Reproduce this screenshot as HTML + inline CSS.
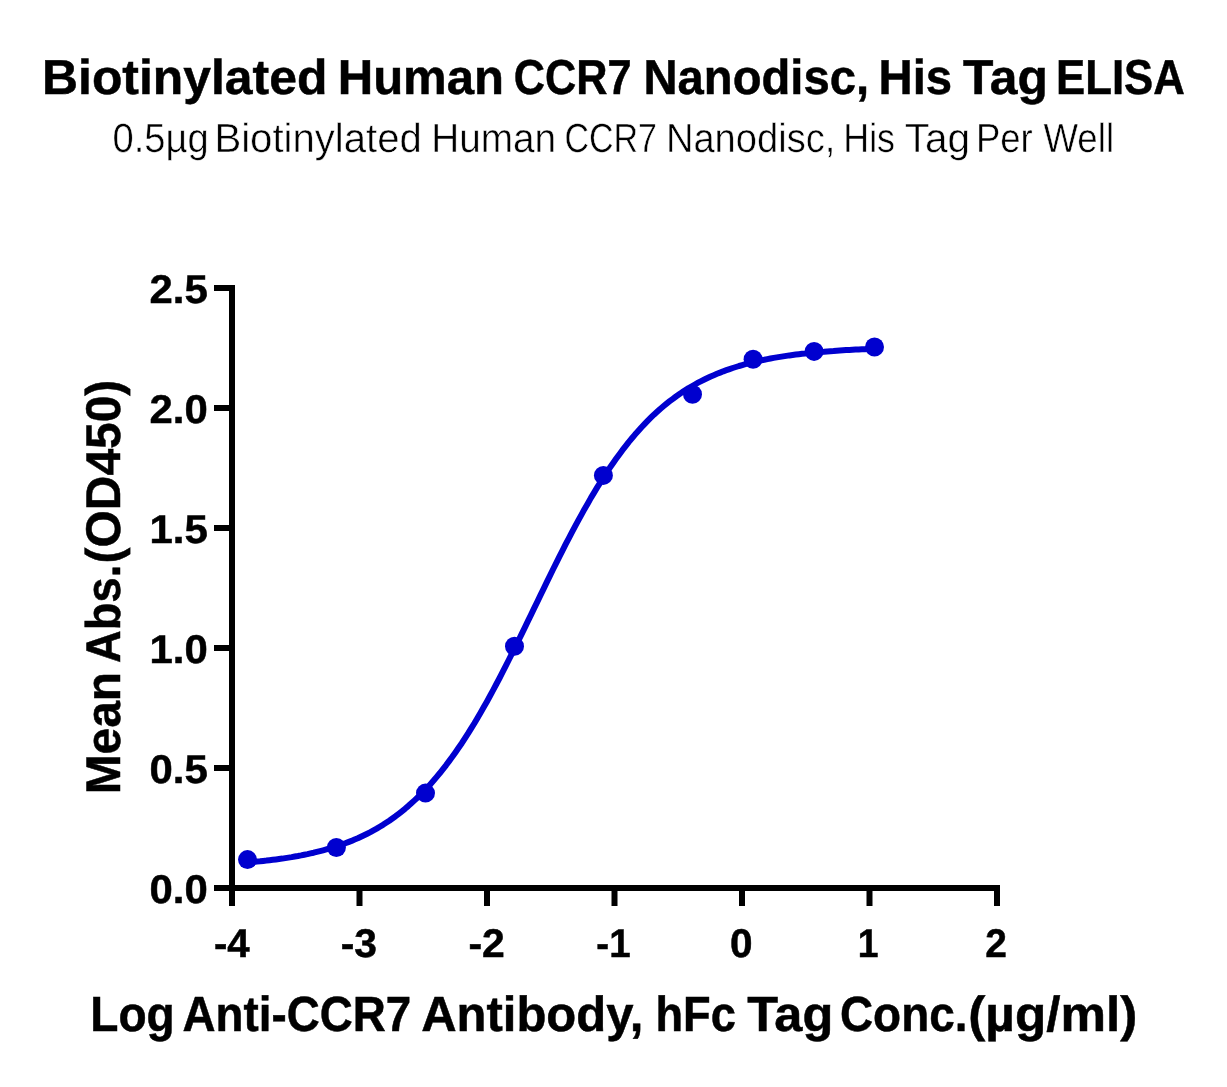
<!DOCTYPE html>
<html><head><meta charset="utf-8"><style>
html,body{margin:0;padding:0;background:#fff;}
svg{display:block;will-change:transform;}
text{font-family:"Liberation Sans",sans-serif;fill:#000;text-rendering:geometricPrecision;}
</style></head><body>
<svg width="1227" height="1087" viewBox="0 0 1227 1087">
<rect width="1227" height="1087" fill="#fff"/>
<text x="42.04" y="94.20" font-size="49" font-weight="bold" textLength="285.37" lengthAdjust="spacingAndGlyphs" stroke="#000" stroke-width="0.5">Biotinylated</text>
<text x="337.70" y="94.20" font-size="49" font-weight="bold" textLength="166.35" lengthAdjust="spacingAndGlyphs" stroke="#000" stroke-width="0.5">Human</text>
<text x="513.69" y="94.20" font-size="49" font-weight="bold" textLength="117.75" lengthAdjust="spacingAndGlyphs" stroke="#000" stroke-width="0.5">CCR7</text>
<text x="643.52" y="94.20" font-size="49" font-weight="bold" textLength="225.50" lengthAdjust="spacingAndGlyphs" stroke="#000" stroke-width="0.5">Nanodisc,</text>
<text x="878.52" y="94.20" font-size="49" font-weight="bold" textLength="73.57" lengthAdjust="spacingAndGlyphs" stroke="#000" stroke-width="0.5">His</text>
<text x="963.04" y="94.20" font-size="49" font-weight="bold" textLength="84.77" lengthAdjust="spacingAndGlyphs" stroke="#000" stroke-width="0.5">Tag</text>
<text x="1056.06" y="94.20" font-size="49" font-weight="bold" textLength="128.80" lengthAdjust="spacingAndGlyphs" stroke="#000" stroke-width="0.5">ELISA</text>
<text x="112.47" y="152.10" font-size="40.8" font-weight="normal" textLength="96.33" lengthAdjust="spacingAndGlyphs" stroke="#fff" stroke-width="0.5">0.5µg</text>
<text x="214.46" y="152.10" font-size="40.8" font-weight="normal" textLength="207.32" lengthAdjust="spacingAndGlyphs" stroke="#fff" stroke-width="0.5">Biotinylated</text>
<text x="431.16" y="152.10" font-size="40.8" font-weight="normal" textLength="124.96" lengthAdjust="spacingAndGlyphs" stroke="#fff" stroke-width="0.5">Human</text>
<text x="564.39" y="152.10" font-size="40.8" font-weight="normal" textLength="92.41" lengthAdjust="spacingAndGlyphs" stroke="#fff" stroke-width="0.5">CCR7</text>
<text x="665.91" y="152.10" font-size="40.8" font-weight="normal" textLength="169.45" lengthAdjust="spacingAndGlyphs" stroke="#fff" stroke-width="0.5">Nanodisc,</text>
<text x="843.28" y="152.10" font-size="40.8" font-weight="normal" textLength="51.74" lengthAdjust="spacingAndGlyphs" stroke="#fff" stroke-width="0.5">His</text>
<text x="904.75" y="152.10" font-size="40.8" font-weight="normal" textLength="65.33" lengthAdjust="spacingAndGlyphs" stroke="#fff" stroke-width="0.5">Tag</text>
<text x="975.93" y="152.10" font-size="40.8" font-weight="normal" textLength="56.81" lengthAdjust="spacingAndGlyphs" stroke="#fff" stroke-width="0.5">Per</text>
<text x="1043.43" y="152.10" font-size="40.8" font-weight="normal" textLength="70.61" lengthAdjust="spacingAndGlyphs" stroke="#fff" stroke-width="0.5">Well</text>
<text x="90.30" y="1031.30" font-size="49.3" font-weight="bold" textLength="84.49" lengthAdjust="spacingAndGlyphs" stroke="#000" stroke-width="0.5">Log</text>
<text x="182.57" y="1031.30" font-size="49.3" font-weight="bold" textLength="228.58" lengthAdjust="spacingAndGlyphs" stroke="#000" stroke-width="0.5">Anti-CCR7</text>
<text x="421.18" y="1031.30" font-size="49.3" font-weight="bold" textLength="222.23" lengthAdjust="spacingAndGlyphs" stroke="#000" stroke-width="0.5">Antibody,</text>
<text x="655.44" y="1031.30" font-size="49.3" font-weight="bold" textLength="80.41" lengthAdjust="spacingAndGlyphs" stroke="#000" stroke-width="0.5">hFc</text>
<text x="747.23" y="1031.30" font-size="49.3" font-weight="bold" textLength="86.01" lengthAdjust="spacingAndGlyphs" stroke="#000" stroke-width="0.5">Tag</text>
<text x="839.98" y="1031.30" font-size="49.3" font-weight="bold" textLength="127.50" lengthAdjust="spacingAndGlyphs" stroke="#000" stroke-width="0.5">Conc.</text>
<text x="968.32" y="1031.30" font-size="49.3" font-weight="bold" textLength="168.96" lengthAdjust="spacingAndGlyphs" stroke="#000" stroke-width="0.5">(µg/ml)</text>
<g transform="translate(120.4,0) rotate(-90)"><text x="-794.31" y="0.00" font-size="48.7" font-weight="bold" textLength="122.25" lengthAdjust="spacingAndGlyphs" stroke="#000" stroke-width="0.5">Mean</text><text x="-662.92" y="0.00" font-size="48.7" font-weight="bold" textLength="98.13" lengthAdjust="spacingAndGlyphs" stroke="#000" stroke-width="0.5">Abs.</text><text x="-563.41" y="0.00" font-size="48.7" font-weight="bold" textLength="183.72" lengthAdjust="spacingAndGlyphs" stroke="#000" stroke-width="0.5">(OD450)</text></g>
<text x="149.46" y="903.20" font-size="40" font-weight="bold" textLength="58.22" lengthAdjust="spacingAndGlyphs" stroke="#000" stroke-width="0.5">0.0</text>
<text x="149.46" y="783.20" font-size="40" font-weight="bold" textLength="58.22" lengthAdjust="spacingAndGlyphs" stroke="#000" stroke-width="0.5">0.5</text>
<text x="149.46" y="663.20" font-size="40" font-weight="bold" textLength="58.22" lengthAdjust="spacingAndGlyphs" stroke="#000" stroke-width="0.5">1.0</text>
<text x="149.46" y="543.20" font-size="40" font-weight="bold" textLength="58.22" lengthAdjust="spacingAndGlyphs" stroke="#000" stroke-width="0.5">1.5</text>
<text x="149.46" y="423.20" font-size="40" font-weight="bold" textLength="58.22" lengthAdjust="spacingAndGlyphs" stroke="#000" stroke-width="0.5">2.0</text>
<text x="149.46" y="303.20" font-size="40" font-weight="bold" textLength="58.22" lengthAdjust="spacingAndGlyphs" stroke="#000" stroke-width="0.5">2.5</text>
<text x="214.00" y="956.80" font-size="40" font-weight="bold" textLength="35.69" lengthAdjust="spacingAndGlyphs" stroke="#000" stroke-width="0.5">-4</text>
<text x="340.68" y="956.80" font-size="40" font-weight="bold" textLength="36.34" lengthAdjust="spacingAndGlyphs" stroke="#000" stroke-width="0.5">-3</text>
<text x="468.48" y="956.80" font-size="40" font-weight="bold" textLength="36.42" lengthAdjust="spacingAndGlyphs" stroke="#000" stroke-width="0.5">-2</text>
<text x="596.34" y="956.80" font-size="40" font-weight="bold" textLength="34.21" lengthAdjust="spacingAndGlyphs" stroke="#000" stroke-width="0.5">-1</text>
<text x="729.99" y="956.80" font-size="40" font-weight="bold" textLength="22.55" lengthAdjust="spacingAndGlyphs" stroke="#000" stroke-width="0.5">0</text>
<text x="857.84" y="956.80" font-size="40" font-weight="bold" textLength="20.77" lengthAdjust="spacingAndGlyphs" stroke="#000" stroke-width="0.5">1</text>
<text x="985.34" y="956.80" font-size="40" font-weight="bold" textLength="21.65" lengthAdjust="spacingAndGlyphs" stroke="#000" stroke-width="0.5">2</text>
<g fill="#000">
<rect x="229" y="285" width="6" height="606"/>
<rect x="229" y="885" width="771" height="6"/>
<rect x="214" y="885" width="21" height="6"/><rect x="214" y="765" width="21" height="6"/><rect x="214" y="645" width="21" height="6"/><rect x="214" y="525" width="21" height="6"/><rect x="214" y="405" width="21" height="6"/><rect x="214" y="285" width="21" height="6"/><rect x="229.0" y="885" width="6" height="21"/><rect x="356.5" y="885" width="6" height="21"/><rect x="484.0" y="885" width="6" height="21"/><rect x="611.5" y="885" width="6" height="21"/><rect x="739.0" y="885" width="6" height="21"/><rect x="866.5" y="885" width="6" height="21"/><rect x="994.0" y="885" width="6" height="21"/>
</g>
<path d="M247.5,862.5 L250.7,862.2 L253.8,861.9 L257.0,861.6 L260.1,861.3 L263.3,860.9 L266.4,860.6 L269.6,860.2 L272.7,859.8 L275.9,859.4 L279.0,859.0 L282.2,858.6 L285.3,858.1 L288.5,857.6 L291.6,857.1 L294.8,856.5 L297.9,856.0 L301.1,855.4 L304.2,854.7 L307.4,854.1 L310.5,853.4 L313.7,852.7 L316.8,851.9 L320.0,851.1 L323.1,850.3 L326.3,849.4 L329.4,848.5 L332.6,847.6 L335.7,846.6 L338.9,845.5 L342.0,844.4 L345.2,843.3 L348.3,842.1 L351.5,840.9 L354.6,839.5 L357.8,838.2 L360.9,836.7 L364.1,835.2 L367.2,833.7 L370.4,832.1 L373.5,830.4 L376.7,828.6 L379.8,826.7 L383.0,824.8 L386.1,822.8 L389.3,820.7 L392.4,818.5 L395.6,816.2 L398.7,813.8 L401.9,811.3 L405.0,808.8 L408.2,806.1 L411.3,803.3 L414.5,800.4 L417.6,797.5 L420.8,794.4 L423.9,791.1 L427.1,787.8 L430.2,784.4 L433.4,780.8 L436.5,777.1 L439.7,773.3 L442.8,769.4 L446.0,765.3 L449.1,761.1 L452.3,756.8 L455.4,752.4 L458.6,747.8 L461.8,743.2 L464.9,738.3 L468.1,733.4 L471.2,728.4 L474.4,723.2 L477.5,717.9 L480.7,712.5 L483.8,707.0 L487.0,701.4 L490.1,695.7 L493.3,689.9 L496.4,684.0 L499.6,678.0 L502.7,671.9 L505.9,665.7 L509.0,659.5 L512.2,653.2 L515.3,646.9 L518.5,640.5 L521.6,634.1 L524.8,627.6 L527.9,621.1 L531.1,614.6 L534.2,608.1 L537.4,601.6 L540.5,595.1 L543.7,588.6 L546.8,582.1 L550.0,575.7 L553.1,569.3 L556.3,562.9 L559.4,556.6 L562.6,550.4 L565.7,544.2 L568.9,538.1 L572.0,532.1 L575.2,526.1 L578.3,520.3 L581.5,514.6 L584.6,508.9 L587.8,503.4 L590.9,497.9 L594.1,492.6 L597.2,487.4 L600.4,482.3 L603.5,477.4 L606.7,472.5 L609.8,467.8 L613.0,463.2 L616.1,458.8 L619.3,454.4 L622.4,450.2 L625.6,446.1 L628.7,442.1 L631.9,438.3 L635.0,434.6 L638.2,431.0 L641.3,427.5 L644.5,424.1 L647.6,420.9 L650.8,417.7 L653.9,414.7 L657.1,411.8 L660.2,409.0 L663.4,406.3 L666.6,403.7 L669.7,401.2 L672.9,398.8 L676.0,396.5 L679.2,394.3 L682.3,392.1 L685.5,390.1 L688.6,388.1 L691.8,386.3 L694.9,384.5 L698.1,382.7 L701.2,381.1 L704.4,379.5 L707.5,378.0 L710.7,376.5 L713.8,375.2 L717.0,373.8 L720.1,372.6 L723.3,371.3 L726.4,370.2 L729.6,369.1 L732.7,368.0 L735.9,367.0 L739.0,366.0 L742.2,365.1 L745.3,364.2 L748.5,363.4 L751.6,362.6 L754.8,361.8 L757.9,361.1 L761.1,360.4 L764.2,359.8 L767.4,359.1 L770.5,358.5 L773.7,357.9 L776.8,357.4 L780.0,356.9 L783.1,356.4 L786.3,355.9 L789.4,355.4 L792.6,355.0 L795.7,354.6 L798.9,354.2 L802.0,353.8 L805.2,353.5 L808.3,353.1 L811.5,352.8 L814.6,352.5 L817.8,352.2 L820.9,351.9 L824.1,351.7 L827.2,351.4 L830.4,351.2 L833.5,351.0 L836.7,350.7 L839.8,350.5 L843.0,350.3 L846.1,350.1 L849.3,350.0 L852.4,349.8 L855.6,349.6 L858.7,349.5 L861.9,349.3 L865.0,349.2 L868.2,349.1 L871.3,348.9 L874.5,348.8" fill="none" stroke="#0000cf" stroke-width="6" stroke-linejoin="round" stroke-linecap="round"/>
<g fill="#0000cf"><circle cx="247.5" cy="859.6" r="9.5"/><circle cx="336.4" cy="847.5" r="9.5"/><circle cx="425.5" cy="793.1" r="9.5"/><circle cx="514.5" cy="646.3" r="9.5"/><circle cx="603.4" cy="475.4" r="9.5"/><circle cx="692.5" cy="394.3" r="9.5"/><circle cx="753.1" cy="359.3" r="9.5"/><circle cx="814.1" cy="351.4" r="9.5"/><circle cx="874.5" cy="347.0" r="9.5"/></g>
</svg>
</body></html>
